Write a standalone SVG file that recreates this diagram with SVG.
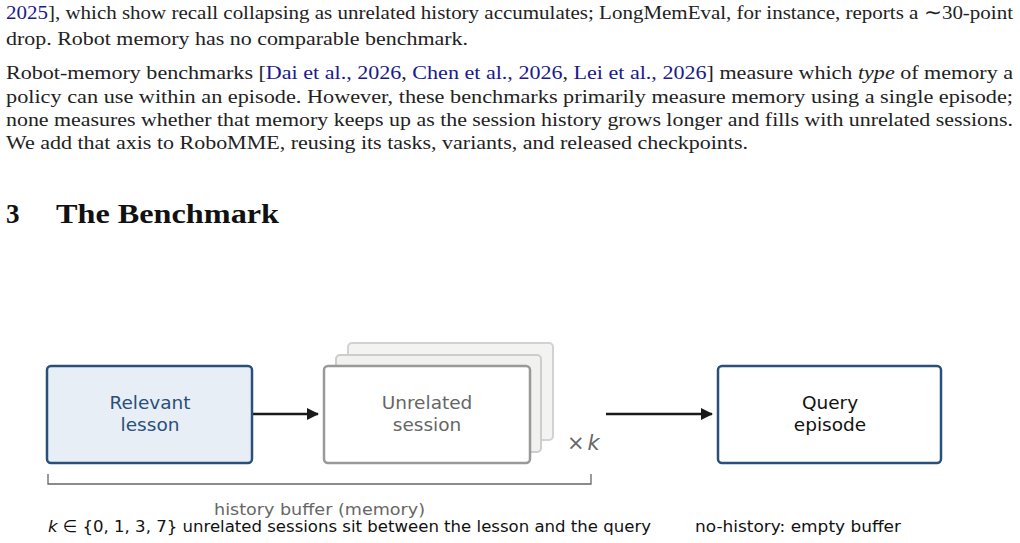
<svg xmlns="http://www.w3.org/2000/svg" width="1020" height="543" viewBox="0 0 1020 543">
<style>
.p{font-family:"Liberation Serif",serif;font-size:19.5px;fill:#222}
.c{fill:#1a1a8c}
.s{font-family:"DejaVu Sans",sans-serif;font-size:18.5px;text-anchor:middle}
.d{font-family:"DejaVu Sans",sans-serif;font-size:16.5px}
</style>
<defs><marker id="ah" markerWidth="12" markerHeight="12" refX="11" refY="6" orient="auto" markerUnits="userSpaceOnUse"><path d="M0,0L12,6L0,12z" fill="#1a1a1a"/></marker></defs>
<rect width="1020" height="543" fill="#fff"/>
<text class="p" x="6" y="19" textLength="1007" lengthAdjust="spacingAndGlyphs"><tspan class="c">2025</tspan>], which show recall collapsing as unrelated history accumulates; LongMemEval, for instance, reports a ∼30-point</text>
<text class="p" x="6" y="45" textLength="462" lengthAdjust="spacingAndGlyphs">drop.  Robot memory has no comparable benchmark.</text>
<text class="p" x="6" y="79" textLength="1007" lengthAdjust="spacingAndGlyphs">Robot-memory benchmarks [<tspan class="c">Dai et al., 2026</tspan>, <tspan class="c">Chen et al., 2026</tspan>, <tspan class="c">Lei et al., 2026</tspan>] measure which <tspan font-style="italic">type</tspan> of memory a</text>
<text class="p" x="6" y="103" textLength="1007" lengthAdjust="spacingAndGlyphs">policy can use within an episode.  However, these benchmarks primarily measure memory using a single episode;</text>
<text class="p" x="6" y="126" textLength="1007" lengthAdjust="spacingAndGlyphs">none measures whether that memory keeps up as the session history grows longer and fills with unrelated sessions.</text>
<text class="p" x="6" y="149" textLength="742" lengthAdjust="spacingAndGlyphs">We add that axis to RoboMME, reusing its tasks, variants, and released checkpoints.</text>
<text x="6" y="223" font-family="Liberation Serif,serif" font-weight="bold" font-size="27" fill="#111">3</text>
<text x="56" y="223" font-family="Liberation Serif,serif" font-weight="bold" font-size="27" fill="#111" textLength="223" lengthAdjust="spacingAndGlyphs">The Benchmark</text>
<g id="connectors" stroke="#1a1a1a" stroke-width="2.5">
<line x1="253" y1="414" x2="318" y2="414" marker-end="url(#ah)"/>
<line x1="606" y1="414" x2="712" y2="414" marker-end="url(#ah)"/>
</g>
<g id="relevant"><rect x="47" y="366" width="205" height="97" rx="4" fill="#e8eef6" stroke="#2a4f7a" stroke-width="2.5"/>
<text class="s" x="150" y="409" fill="#2a4f7a">Relevant<tspan x="150" dy="22">lesson</tspan></text></g>
<g id="unrelated">
<rect x="348" y="343" width="205" height="97" rx="4" fill="#f3f3f1" stroke="#d2d2d2" stroke-width="2"/>
<rect x="336" y="355" width="205" height="97" rx="4" fill="#f1f1ef" stroke="#cdcdcd" stroke-width="2"/>
<rect x="324" y="366" width="206" height="97" rx="4" fill="#fff" stroke="#999" stroke-width="2.5"/>
<text class="s" x="427" y="409" fill="#666">Unrelated<tspan x="427" dy="22">session</tspan></text>
<text x="567" y="450" font-family="DejaVu Sans,sans-serif" font-size="21" fill="#666">×<tspan font-style="italic" dx="3">k</tspan></text></g>
<g id="query"><rect x="718" y="366" width="223" height="97" rx="4" fill="#fff" stroke="#2a4f7a" stroke-width="2.5"/>
<text class="s" x="830" y="409" fill="#111">Query<tspan x="830" dy="22">episode</tspan></text></g>
<g id="bracket"><path d="M48,474V484H591V474" fill="none" stroke="#666" stroke-width="1.3"/>
<text class="d" x="214" y="515" textLength="211" lengthAdjust="spacingAndGlyphs" fill="#666">history buffer (memory)</text></g>
<text class="d" x="48" y="532" textLength="603" lengthAdjust="spacingAndGlyphs" fill="#111"><tspan font-style="italic">k</tspan> ∈ {0, 1, 3, 7} unrelated sessions sit between the lesson and the query</text>
<text class="d" x="695" y="532" textLength="206" lengthAdjust="spacingAndGlyphs" fill="#111">no-history: empty buffer</text>
</svg>
